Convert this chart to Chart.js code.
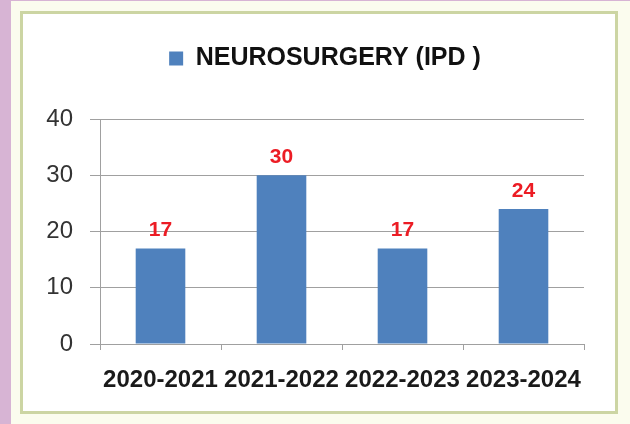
<!DOCTYPE html>
<html>
<head>
<meta charset="utf-8">
<script src="https://cdn.jsdelivr.net/npm/chart.js@4/dist/chart.umd.min.js"></script>
<style>
  html, body { margin: 0; padding: 0; }
  body { width: 630px; height: 424px; background: #fbfcee; position: relative; overflow: hidden; }
  #strip { position: absolute; left: 0; top: 0; width: 11px; height: 424px; background: #d7b4d4; }
  #topstrip { position: absolute; left: 0; top: 0; width: 630px; height: 1px; background: #d7b4d4; }
  #box { position: absolute; left: 20px; top: 11px; width: 592px; height: 397px; border: 3px solid #ccd5a3; background: #ffffff; }
  #wrap { position: absolute; left: 0; top: 0; width: 630px; height: 424px; }
</style>
</head>
<body>
<div id="strip"></div>
<div id="topstrip"></div>
<div id="box"></div>
<div id="wrap"><canvas id="c" width="630" height="424"></canvas></div>
<script>
const categories = ["2020-2021", "2021-2022", "2022-2023", "2023-2024"];
const seriesName = "NEUROSURGERY (IPD )";
const seriesValues = [17, 30, 17, 24];
const yTicks = [0, 10, 20, 30, 40];

const FONT = "'Liberation Sans', Arial, sans-serif";
const GRID = '#a0a0a0';
const PAD_TOP = 36;

const legendSpace = {
  id: 'legendSpace',
  beforeInit(chart) {
    const origFit = chart.legend.fit;
    chart.legend.fit = function () {
      origFit.bind(chart.legend)();
      this.height = 119 - PAD_TOP;
    };
  },
  afterLayout(chart) {
    chart.legend.left += 66;
  }
};

const valueLabels = {
  id: 'valueLabels',
  afterDatasetsDraw(chart) {
    const ctx = chart.ctx;
    const meta = chart.getDatasetMeta(0);
    ctx.save();
    ctx.font = "bold 21px " + FONT;
    ctx.fillStyle = '#ec1c24';
    ctx.textAlign = 'center';
    ctx.textBaseline = 'middle';
    meta.data.forEach((bar, i) => {
      ctx.fillText(String(chart.data.datasets[0].data[i]), bar.x, bar.y - 18);
    });
    ctx.restore();
  }
};

new Chart(document.getElementById('c'), {
  type: 'bar',
  data: {
    labels: categories,
    datasets: [{
      label: seriesName,
      data: seriesValues,
      backgroundColor: '#4f81bd',
      borderWidth: 0,
      barPercentage: 0.41,
      categoryPercentage: 1.0
    }]
  },
  options: {
    responsive: false,
    animation: false,
    devicePixelRatio: 1,
    layout: { padding: { left: 0, right: 46, top: PAD_TOP, bottom: 0 } },
    plugins: {
      legend: {
        position: 'top',
        labels: {
          boxWidth: 14,
          boxHeight: 14,
          padding: 10,
          color: '#111111',
          font: { family: FONT, size: 25, weight: 'bold' }
        }
      },
      tooltip: { enabled: false }
    },
    scales: {
      x: {
        offset: true,
        afterFit(scale) { scale.height = 80; },
        grid: {
          display: true,
          offset: true,
          drawOnChartArea: false,
          drawTicks: true,
          tickLength: 6,
          color: GRID
        },
        border: { display: true, color: GRID, width: 1 },
        ticks: {
          padding: 16,
          color: '#1a1a1a',
          maxRotation: 0,
          autoSkip: false,
          font: { family: FONT, size: 24, weight: 'bold' }
        }
      },
      y: {
        min: 0,
        max: 40,
        afterFit(scale) { scale.width = 100; },
        afterBuildTicks(scale) { scale.ticks = yTicks.map(v => ({ value: v })); },
        grid: {
          color: GRID,
          tickLength: 10,
          drawTicks: true
        },
        border: { display: true, color: GRID, width: 1 },
        ticks: {
          stepSize: 10,
          padding: 17,
          color: '#333333',
          font: { family: FONT, size: 24 }
        }
      }
    }
  },
  plugins: [legendSpace, valueLabels]
});
</script>
</body>
</html>
